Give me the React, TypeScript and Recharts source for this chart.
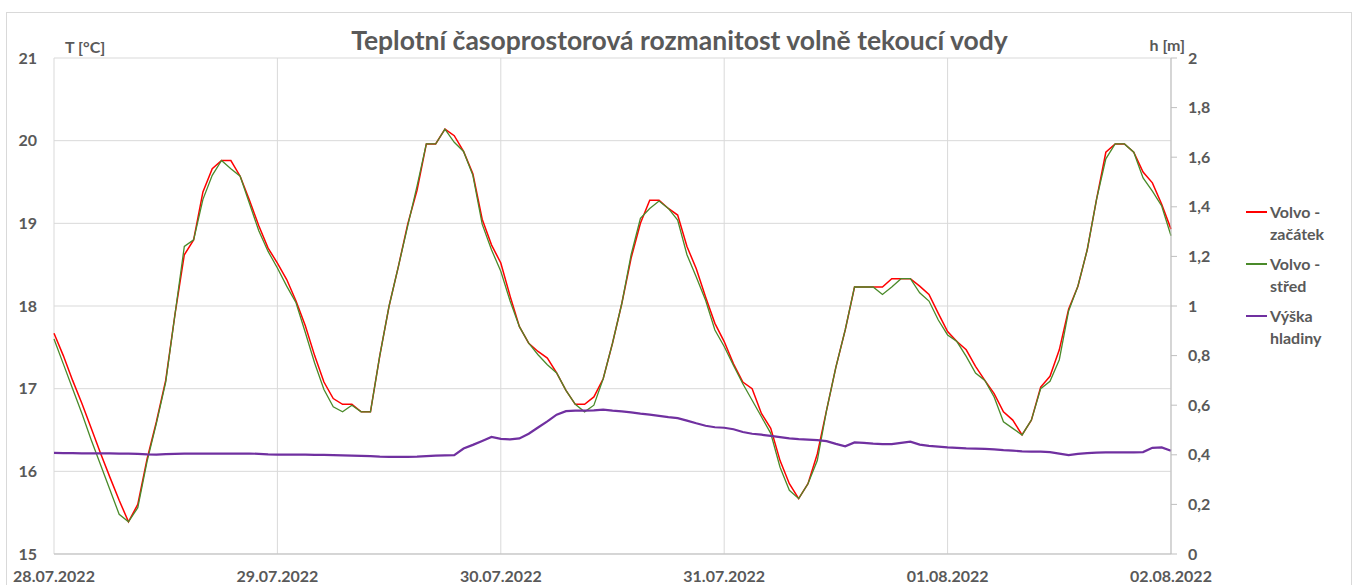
import React from "react";
import { LineChart, Line, XAxis, YAxis, CartesianGrid, Legend } from "recharts";

// one value per hour, 28.07.2022 00:00 .. 02.08.2022 00:00
const dayLabels = ["28.07.2022", "29.07.2022", "30.07.2022", "31.07.2022", "01.08.2022", "02.08.2022"];
const dayTicks = [0, 24, 48, 72, 96, 120];
const tempTicks = [15, 16, 17, 18, 19, 20, 21];
const levelTicks = [0, 0.2, 0.4, 0.6, 0.8, 1, 1.2, 1.4, 1.6, 1.8, 2];
const seriesNames = ["Volvo - začátek", "Volvo - střed", "Výška hladiny"];

const volvoZacatek = [
  17.67, 17.4, 17.1, 16.82, 16.52, 16.22, 15.93, 15.65, 15.39, 15.6, 16.15, 16.6,
  17.1, 17.9, 18.62, 18.8, 19.38, 19.66, 19.76, 19.76, 19.57, 19.28, 18.97, 18.7,
  18.52, 18.32, 18.06, 17.76, 17.4, 17.08, 16.88, 16.81, 16.81, 16.72, 16.72, 17.4,
  18.0, 18.48, 18.99, 19.4, 19.96, 19.96, 20.14, 20.06, 19.87, 19.6, 19.05, 18.74,
  18.52, 18.12, 17.75, 17.55, 17.45, 17.37, 17.19, 16.98, 16.81, 16.81, 16.9, 17.12,
  17.55, 18.03, 18.58, 19.0, 19.28, 19.28, 19.18, 19.1, 18.72, 18.45, 18.11, 17.79,
  17.57, 17.3, 17.08, 17.0, 16.7, 16.52, 16.13, 15.85, 15.67, 15.85, 16.21, 16.74,
  17.26, 17.71, 18.23, 18.23, 18.23, 18.23, 18.33, 18.33, 18.33, 18.24, 18.14, 17.91,
  17.69, 17.57, 17.47, 17.27, 17.1, 16.94, 16.72, 16.62, 16.44, 16.62, 17.02, 17.15,
  17.47, 17.96, 18.24, 18.68, 19.29, 19.86, 19.96, 19.96, 19.86, 19.62, 19.49, 19.23,
  18.93,
];

const volvoStred = [
  17.6, 17.3, 17.0, 16.7, 16.38, 16.08, 15.78, 15.48, 15.39, 15.56, 16.12, 16.58,
  17.08, 17.9, 18.72, 18.8, 19.29, 19.58, 19.76, 19.66, 19.57, 19.24, 18.91, 18.66,
  18.46, 18.24, 18.04, 17.68, 17.31, 16.99, 16.78, 16.72, 16.8, 16.72, 16.72, 17.4,
  18.0, 18.48, 18.97, 19.45, 19.96, 19.96, 20.14, 19.98, 19.87, 19.58, 18.99, 18.68,
  18.42, 18.06, 17.75, 17.55, 17.41, 17.29, 17.19, 16.98, 16.81, 16.72, 16.8, 17.12,
  17.55, 18.03, 18.62, 19.06, 19.18, 19.27, 19.18, 19.04, 18.62, 18.35, 18.07, 17.71,
  17.51, 17.28, 17.06, 16.86, 16.66, 16.46, 16.05, 15.77, 15.67, 15.85, 16.13, 16.74,
  17.26, 17.71, 18.23, 18.23, 18.23, 18.14, 18.23, 18.33, 18.33, 18.16, 18.06, 17.83,
  17.65, 17.57, 17.39, 17.19, 17.1, 16.9, 16.6, 16.52, 16.44, 16.62, 17.0, 17.09,
  17.35, 17.94, 18.24, 18.68, 19.29, 19.78, 19.96, 19.96, 19.86, 19.55, 19.39, 19.21,
  18.85,
];

const vyskaHladiny = [
  0.408, 0.407, 0.407, 0.406, 0.406, 0.406, 0.406, 0.405, 0.405, 0.404, 0.402, 0.401,
  0.403, 0.404, 0.405, 0.405, 0.405, 0.405, 0.405, 0.405, 0.405, 0.405, 0.404, 0.402,
  0.401, 0.401, 0.401, 0.401, 0.4, 0.4, 0.399, 0.398, 0.397, 0.396, 0.395, 0.393,
  0.392, 0.392, 0.392, 0.393, 0.395, 0.397, 0.398, 0.399, 0.425, 0.44, 0.456, 0.472,
  0.464, 0.462, 0.466, 0.485, 0.51, 0.535, 0.562, 0.576, 0.578, 0.578, 0.579, 0.582,
  0.578, 0.575, 0.571, 0.566, 0.562, 0.557, 0.552, 0.548, 0.538, 0.527, 0.517, 0.511,
  0.509, 0.503, 0.492, 0.485, 0.481, 0.476, 0.471, 0.466, 0.463, 0.461, 0.459, 0.455,
  0.444, 0.434, 0.45, 0.448, 0.445, 0.443, 0.443, 0.448, 0.453, 0.441, 0.436, 0.433,
  0.43, 0.428, 0.426, 0.425, 0.424, 0.422, 0.419, 0.417, 0.414, 0.413, 0.413, 0.411,
  0.405, 0.399, 0.404, 0.407, 0.409, 0.41, 0.41, 0.41, 0.41, 0.411, 0.428, 0.43,
  0.416,
];

const data = volvoZacatek.map((t, i) => ({
  hour: i,
  zacatek: t,
  stred: volvoStred[i],
  hladina: vyskaHladiny[i],
}));

const font = "Lato, 'Open Sans', sans-serif";
const textGray = "#595959";
const tickStyle = { fill: textGray, fontSize: 16, fontWeight: 700, fontFamily: font };

const levelFormat = (v: number) =>
  Number.isInteger(v) ? String(v) : v.toFixed(1).replace(".", ",");

// keep the legend in series order (recharts sorts it by name otherwise)
const renderLegend = (props: any) => {
  const items = [...(props.payload || [])].sort(
    (a: any, b: any) => seriesNames.indexOf(a.value) - seriesNames.indexOf(b.value)
  );
  return (
    <div style={{ fontFamily: font, fontSize: 16, fontWeight: 700, color: textGray, lineHeight: "21.5px" }}>
      {items.map((p: any) => (
        <div key={p.value} style={{ display: "flex", alignItems: "flex-start", marginBottom: 9 }}>
          <span
            style={{ width: 21, height: 2, background: p.color, marginTop: 10, marginRight: 3, flex: "none" }}
          />
          <span style={{ width: 74 }}>{p.value}</span>
        </div>
      ))}
    </div>
  );
};

const App = () => {
  return (
    <div style={{ position: "absolute", left: 0, top: 0, width: 1356, height: 585, overflow: "hidden", background: "#fff" }}>
      <div
        style={{
          position: "absolute",
          left: 6,
          top: 12,
          width: 1346,
          height: 620,
          border: "1px solid #d9d9d9",
          boxSizing: "border-box",
        }}
      />
      <div
        style={{
          position: "absolute",
          left: 0,
          top: 25,
          width: 1359,
          textAlign: "center",
          fontFamily: font,
          fontSize: 26.5,
          lineHeight: "30px",
          fontWeight: 700,
          color: textGray,
          whiteSpace: "nowrap",
        }}
      >
        Teplotní časoprostorová rozmanitost volně tekoucí vody
      </div>
      <div
        style={{ position: "absolute", left: 65, top: 37, fontFamily: font, fontSize: 16, lineHeight: "20px", fontWeight: 700, color: textGray }}
      >
        T [°C]
      </div>
      <div
        style={{ position: "absolute", right: 171, top: 35, fontFamily: font, fontSize: 16, lineHeight: "20px", fontWeight: 700, color: textGray }}
      >
        h [m]
      </div>
      <div style={{ position: "absolute", left: 0, top: 0 }}>
        <LineChart width={1356} height={585} data={data} margin={{ top: 58, right: 10, bottom: 0, left: 0 }}>
          <CartesianGrid yAxisId="t" stroke="#d9d9d9" strokeWidth={1} />
          <XAxis
            dataKey="hour"
            type="number"
            domain={[0, 120]}
            ticks={dayTicks}
            tickFormatter={(v: number) => dayLabels[v / 24]}
            height={31}
            tickLine={false}
            tickMargin={11}
            axisLine={{ stroke: "#bfbfbf" }}
            tick={tickStyle}
            interval={0}
          />
          <YAxis
            yAxisId="t"
            orientation="left"
            domain={[15, 21]}
            ticks={tempTicks}
            width={54}
            axisLine={false}
            tickLine={false}
            tickMargin={11}
            tick={tickStyle}
            interval={0}
          />
          <YAxis
            yAxisId="h"
            orientation="right"
            domain={[0, 2]}
            ticks={levelTicks}
            width={75}
            axisLine={{ stroke: "#bfbfbf" }}
            tickLine={{ stroke: "#bfbfbf" }}
            tickSize={6}
            tickMargin={11}
            tickFormatter={levelFormat}
            tick={tickStyle}
            interval={0}
          />
          <Legend
            layout="vertical"
            align="right"
            verticalAlign="top"
            width={100}
            wrapperStyle={{ top: 201, width: 100 }}
            content={renderLegend}
          />
          <Line
            yAxisId="t"
            type="linear"
            dataKey="zacatek"
            name="Volvo - začátek"
            stroke="#ff0000"
            strokeWidth={1.5}
            dot={false}
            isAnimationActive={false}
          />
          <Line
            yAxisId="t"
            type="linear"
            dataKey="stred"
            name="Volvo - střed"
            stroke="#4a8a2a"
            strokeWidth={1.3}
            dot={false}
            isAnimationActive={false}
          />
          <Line
            yAxisId="h"
            type="linear"
            dataKey="hladina"
            name="Výška hladiny"
            stroke="#7030a0"
            strokeWidth={2.2}
            dot={false}
            isAnimationActive={false}
          />
        </LineChart>
      </div>
    </div>
  );
};

export default App;
